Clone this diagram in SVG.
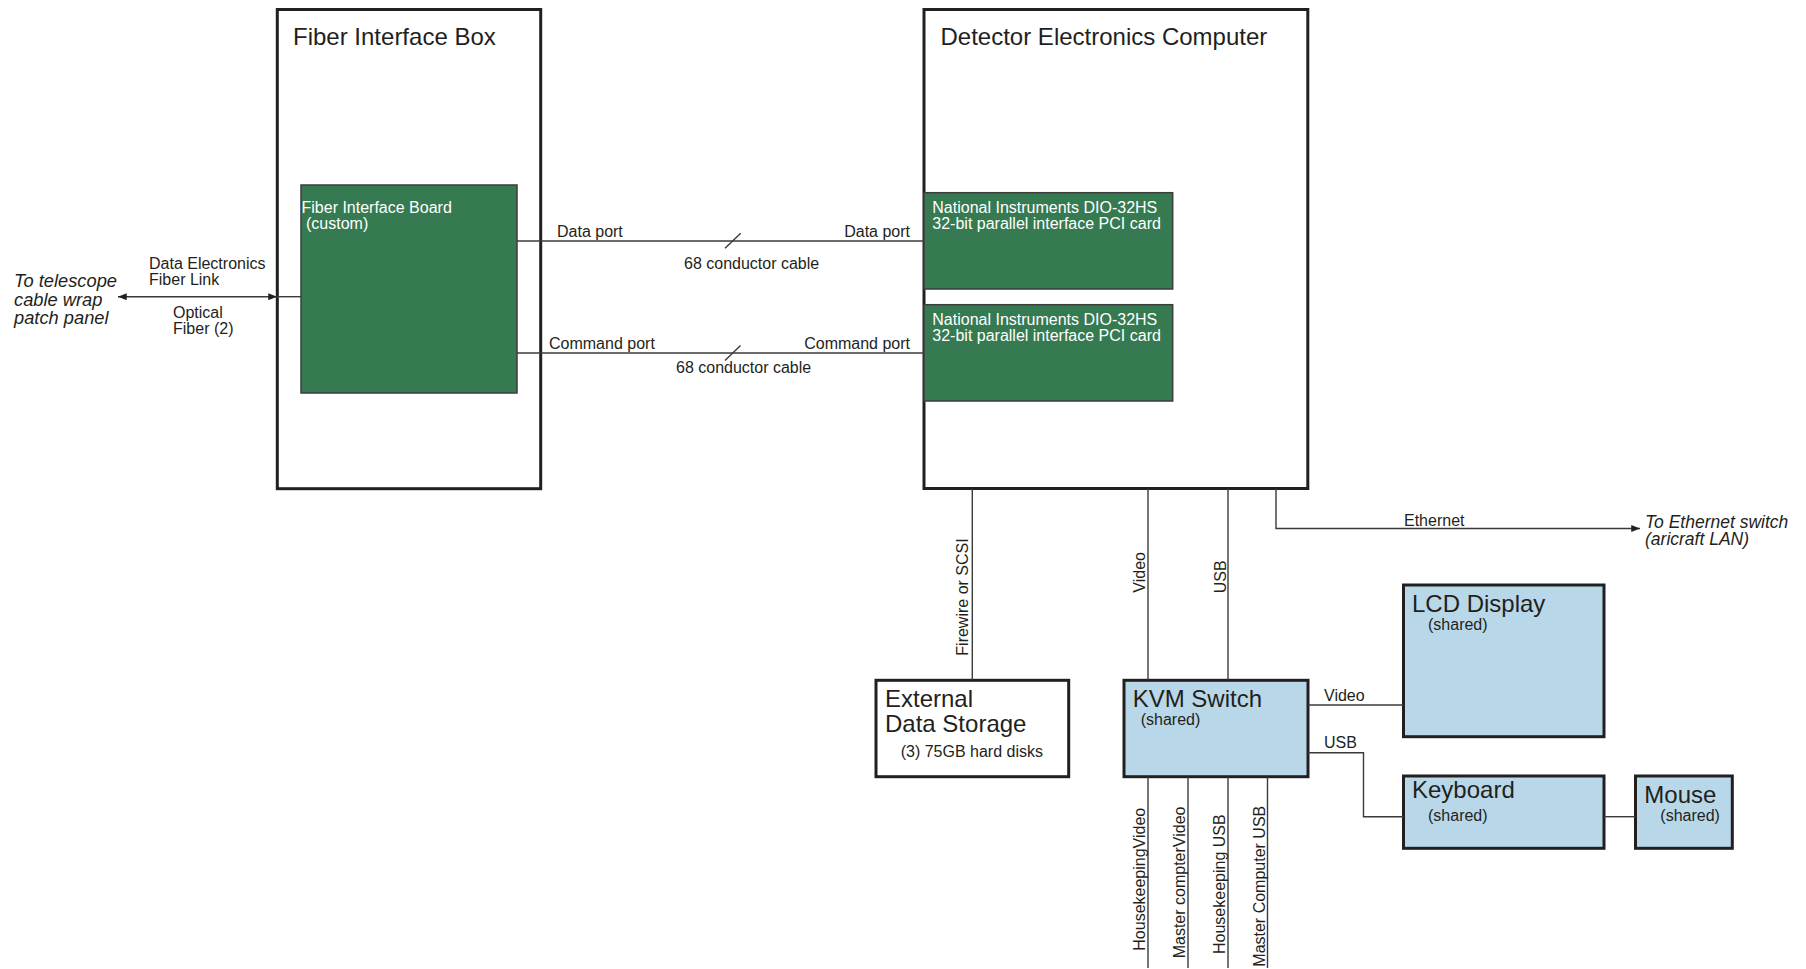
<svg xmlns="http://www.w3.org/2000/svg" width="1806" height="969" viewBox="0 0 1806 969">
  <style>
    text { font-family: "Liberation Sans", Arial, sans-serif; fill: #231f20; }
    .t24 { font-size: 24px; }
    .t16 { font-size: 16px; }
    .it { font-style: italic; }
    .wt { fill: #ffffff; font-size: 16px; }
    .box { fill: #ffffff; stroke: #231f20; stroke-width: 3; }
    .card { fill: #357a51; stroke: #3d3d3d; stroke-width: 1.5; }
    .dev { fill: #b8d8e9; stroke: #231f20; stroke-width: 3; }
    .wire { fill: none; stroke: #3a3a3a; stroke-width: 1.4; }
  </style>
  <defs>
    <marker id="arrow" viewBox="0 0 10 8" refX="10" refY="4" markerWidth="9" markerHeight="7" markerUnits="userSpaceOnUse" orient="auto-start-reverse">
      <path d="M0,0 L10,4 L0,8 Z" fill="#231f20"/>
    </marker>
  </defs>

  <rect width="1806" height="969" fill="#ffffff"/>

  <!-- fiber interface box -->
  <g id="fiber-interface-box">
    <rect class="box" x="277.3" y="9.5" width="263.4" height="479.2"/>
    <text class="t24" x="293" y="45">Fiber Interface Box</text>
  </g>
  <g id="fiber-interface-board">
    <rect class="card" x="301" y="185" width="216" height="208"/>
    <text class="wt" x="301.5" y="213">Fiber Interface Board</text>
    <text class="wt" x="306" y="229">(custom)</text>
  </g>

  <!-- detector electronics computer -->
  <g id="detector-electronics-computer">
    <rect class="box" x="924" y="9.5" width="383.8" height="479"/>
    <text class="t24" x="940.5" y="45">Detector Electronics Computer</text>
  </g>
  <g id="dio-card-data">
    <rect class="card" x="924" y="192.7" width="248.7" height="96.3"/>
    <text class="wt" x="932.3" y="213.3">National Instruments DIO-32HS</text>
    <text class="wt" x="932.3" y="229.3">32-bit parallel interface PCI card</text>
  </g>
  <g id="dio-card-command">
    <rect class="card" x="924" y="304.7" width="248.7" height="96.3"/>
    <text class="wt" x="932.3" y="325.3">National Instruments DIO-32HS</text>
    <text class="wt" x="932.3" y="341.3">32-bit parallel interface PCI card</text>
  </g>

  <!-- storage -->
  <g id="external-data-storage">
    <rect class="box" x="876" y="680.3" width="192.7" height="96.4"/>
    <text class="t24" x="885" y="707.3">External</text>
    <text class="t24" x="885" y="731.7">Data Storage</text>
    <text class="t16" x="900.7" y="756.7">(3) 75GB hard disks</text>
  </g>

  <!-- shared peripherals -->
  <g id="kvm-switch">
    <rect class="dev" x="1124" y="680.3" width="184" height="96.4"/>
    <text class="t24" x="1132.7" y="707.3">KVM Switch</text>
    <text class="t16" x="1140.7" y="725">(shared)</text>
  </g>
  <g id="lcd-display">
    <rect class="dev" x="1403.5" y="585" width="200.5" height="151.7"/>
    <text class="t24" x="1412" y="611.7">LCD Display</text>
    <text class="t16" x="1428" y="630">(shared)</text>
  </g>
  <g id="keyboard">
    <rect class="dev" x="1403.5" y="776" width="200.5" height="72.3"/>
    <text class="t24" x="1412" y="798.3">Keyboard</text>
    <text class="t16" x="1428" y="820.7">(shared)</text>
  </g>
  <g id="mouse">
    <rect class="dev" x="1635.5" y="776" width="96.8" height="72.3"/>
    <text class="t24" x="1644.3" y="803.3">Mouse</text>
    <text class="t16" x="1660.3" y="820.7">(shared)</text>
  </g>

  <!-- off-diagram destinations -->
  <g id="telescope-patch-panel">
    <text class="it" font-size="18.3" x="14" y="287">To telescope</text>
    <text class="it" font-size="18.3" x="14" y="305.7">cable wrap</text>
    <text class="it" font-size="18.3" x="14" y="324.4">patch panel</text>
  </g>
  <g id="ethernet-switch">
    <text class="it" font-size="17.5" x="1645" y="527.7">To Ethernet switch</text>
    <text class="it" font-size="17.5" x="1645" y="545">(aricraft LAN)</text>
  </g>

  <!-- connectors, drawn over the enclosures -->
  <g id="connectors">
    <line class="wire" x1="118" y1="296.7" x2="277" y2="296.7" marker-start="url(#arrow)" marker-end="url(#arrow)"/>
    <line class="wire" x1="277" y1="296.7" x2="301" y2="296.7"/>
    <line class="wire" x1="517" y1="241" x2="924" y2="241"/>
    <line class="wire" x1="725" y1="248.3" x2="740.7" y2="233.3"/>
    <line class="wire" x1="517" y1="353" x2="924" y2="353"/>
    <line class="wire" x1="725" y1="360.5" x2="740.5" y2="345.5"/>
    <line class="wire" x1="972.3" y1="489" x2="972.3" y2="680"/>
    <line class="wire" x1="1148" y1="489" x2="1148" y2="680"/>
    <line class="wire" x1="1228" y1="489" x2="1228" y2="680"/>
    <polyline class="wire" points="1276,489 1276,528.5 1640,528.5" marker-end="url(#arrow)"/>
    <line class="wire" x1="1308" y1="705" x2="1403.5" y2="705"/>
    <polyline class="wire" points="1308,752.7 1363.5,752.7 1363.5,816.7 1403.5,816.7"/>
    <line class="wire" x1="1604" y1="816.7" x2="1635.5" y2="816.7"/>
    <line class="wire" x1="1148" y1="776.7" x2="1148" y2="968"/>
    <line class="wire" x1="1188" y1="776.7" x2="1188" y2="968"/>
    <line class="wire" x1="1228" y1="776.7" x2="1228" y2="968"/>
    <line class="wire" x1="1267.5" y1="776.7" x2="1267.5" y2="968"/>

    <!-- connector labels -->
    <text class="t16" x="149" y="269">Data Electronics</text>
    <text class="t16" x="149" y="285">Fiber Link</text>
    <text class="t16" x="173" y="318">Optical</text>
    <text class="t16" x="173" y="333.5">Fiber (2)</text>
    <text class="t16" x="557" y="237">Data port</text>
    <text class="t16" x="910" y="237" text-anchor="end">Data port</text>
    <text class="t16" x="684" y="269">68 conductor cable</text>
    <text class="t16" x="549" y="349">Command port</text>
    <text class="t16" x="910" y="349" text-anchor="end">Command port</text>
    <text class="t16" x="676" y="373">68 conductor cable</text>
    <text class="t16" x="1404" y="526">Ethernet</text>
    <text class="t16" x="1324" y="700.7">Video</text>
    <text class="t16" x="1324" y="748.3">USB</text>
    <text class="t16" transform="translate(968.3,655.7) rotate(-90)">Firewire or SCSI</text>
    <text class="t16" transform="translate(1145,592.7) rotate(-90)">Video</text>
    <text class="t16" transform="translate(1225.5,593.3) rotate(-90)">USB</text>
    <text class="t16" transform="translate(1145,950.7) rotate(-90)">HousekeepingVideo</text>
    <text class="t16" transform="translate(1185,958.3) rotate(-90)">Master compterVideo</text>
    <text class="t16" transform="translate(1225,954) rotate(-90)">Housekeeping USB</text>
    <text class="t16" transform="translate(1265,966.7) rotate(-90)">Master Computer USB</text>
  </g>
</svg>
